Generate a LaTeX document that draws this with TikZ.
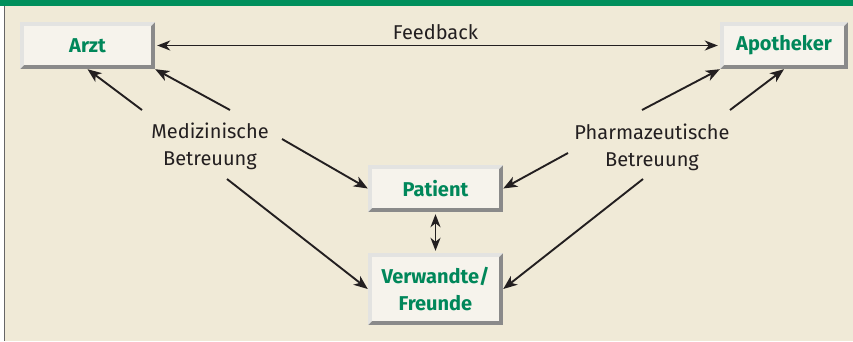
\documentclass[tikz,border=0pt]{standalone}
\usepackage{fontspec}
\setmainfont{Fira Sans}
\usetikzlibrary{arrows.meta}
\definecolor{bgBeige}{HTML}{F0EAD7}
\definecolor{barGreen}{HTML}{00905C}
\definecolor{textGreen}{HTML}{00875A}
\definecolor{faceCream}{HTML}{F6F3EC}
\definecolor{bevLight}{HTML}{E3E3E1}
\definecolor{bevDark}{HTML}{8A8A8A}
\definecolor{inkBlack}{HTML}{231F20}
\tikzset{
  tile/.style={minimum width=135pt, minimum height=47pt, inner sep=0pt, align=center,
    font=\fontsize{20}{27}\selectfont\bfseries, text=textGreen,
    path picture={
      \fill[bevDark] (path picture bounding box.south west) rectangle (path picture bounding box.north east);
      \fill[bevLight] (path picture bounding box.south west) -- (path picture bounding box.north west)
        -- (path picture bounding box.north east) -- ([shift={(-4pt,-4pt)}]path picture bounding box.north east)
        -- ([shift={(4pt,4pt)}]path picture bounding box.south west) -- cycle;
      \fill[faceCream] ([shift={(4pt,-4pt)}]path picture bounding box.north west)
        rectangle ([shift={(-4pt,4pt)}]path picture bounding box.south east);
    }},
  lbl/.style={align=center, font=\fontsize{20}{27}\selectfont, text=inkBlack},
  conn/.style={-{Stealth[length=14pt,width=11pt,inset=4pt]}, line width=1.9pt, draw=inkBlack},
  twoway/.style={{Stealth[length=13pt,width=10pt,inset=4pt]}-{Stealth[length=13pt,width=10pt,inset=4pt]},
    line width=1.9pt, draw=inkBlack, shorten <=2pt, shorten >=2pt}
}
\begin{document}
\begin{tikzpicture}[x=1pt, y=-1pt]
  % Frame and background
  \useasboundingbox (0,0) rectangle (853,341);
  \fill[white] (0,0) rectangle (853,341);
  \fill[bgBeige] (4,0) rectangle (853,341);
  \draw[gray!80!black, line width=1pt] (4,6) -- (4,341);
  \fill[barGreen] (0,0) rectangle (853,6);
  % Boxes
  \node[tile] (arzt) at (87.5,45.5) {Arzt};
  \node[tile, minimum width=128pt] (apotheker) at (784,45.5) {Apotheker};
  \node[tile] (patient) at (435.5,188.5) {Patient};
  \node[tile, minimum height=72pt] (verwandte) at (435.5,289) {Verwandte/\\Freunde};
  % Labels
  \node[lbl, anchor=base] (feedback) at (435.5,39) {Feedback};
  \node[lbl] (medizin) at (210,146) {Medizinische\\Betreuung};
  \node[lbl] (pharma) at (652,147) {Pharmazeutische\\Betreuung};
  % Free ends near the labels
  \coordinate (mArzt1) at (142,110);
  \coordinate (mArzt2) at (230,110);
  \coordinate (mPat) at (282,139);
  \coordinate (mVer) at (227,179);
  \coordinate (pApo1) at (642,110);
  \coordinate (pApo2) at (730,110);
  \coordinate (pPat) at (568,153);
  \coordinate (pVer) at (643,179);
  % Connectors
  \draw[twoway] (arzt) -- (apotheker);
  \draw[twoway] (patient) -- (verwandte);
  \draw[conn] (mArzt1) -- (arzt.south);
  \draw[conn] (mArzt2) -- (arzt.south east);
  \draw[conn] (mPat) -- (patient.west);
  \draw[conn] (mVer) -- (verwandte.west);
  \draw[conn] (pApo1) -- (apotheker.south west);
  \draw[conn] (pApo2) -- (apotheker.south);
  \draw[conn] (pPat) -- (patient.east);
  \draw[conn] (pVer) -- (verwandte.east);
\end{tikzpicture}
\end{document}
